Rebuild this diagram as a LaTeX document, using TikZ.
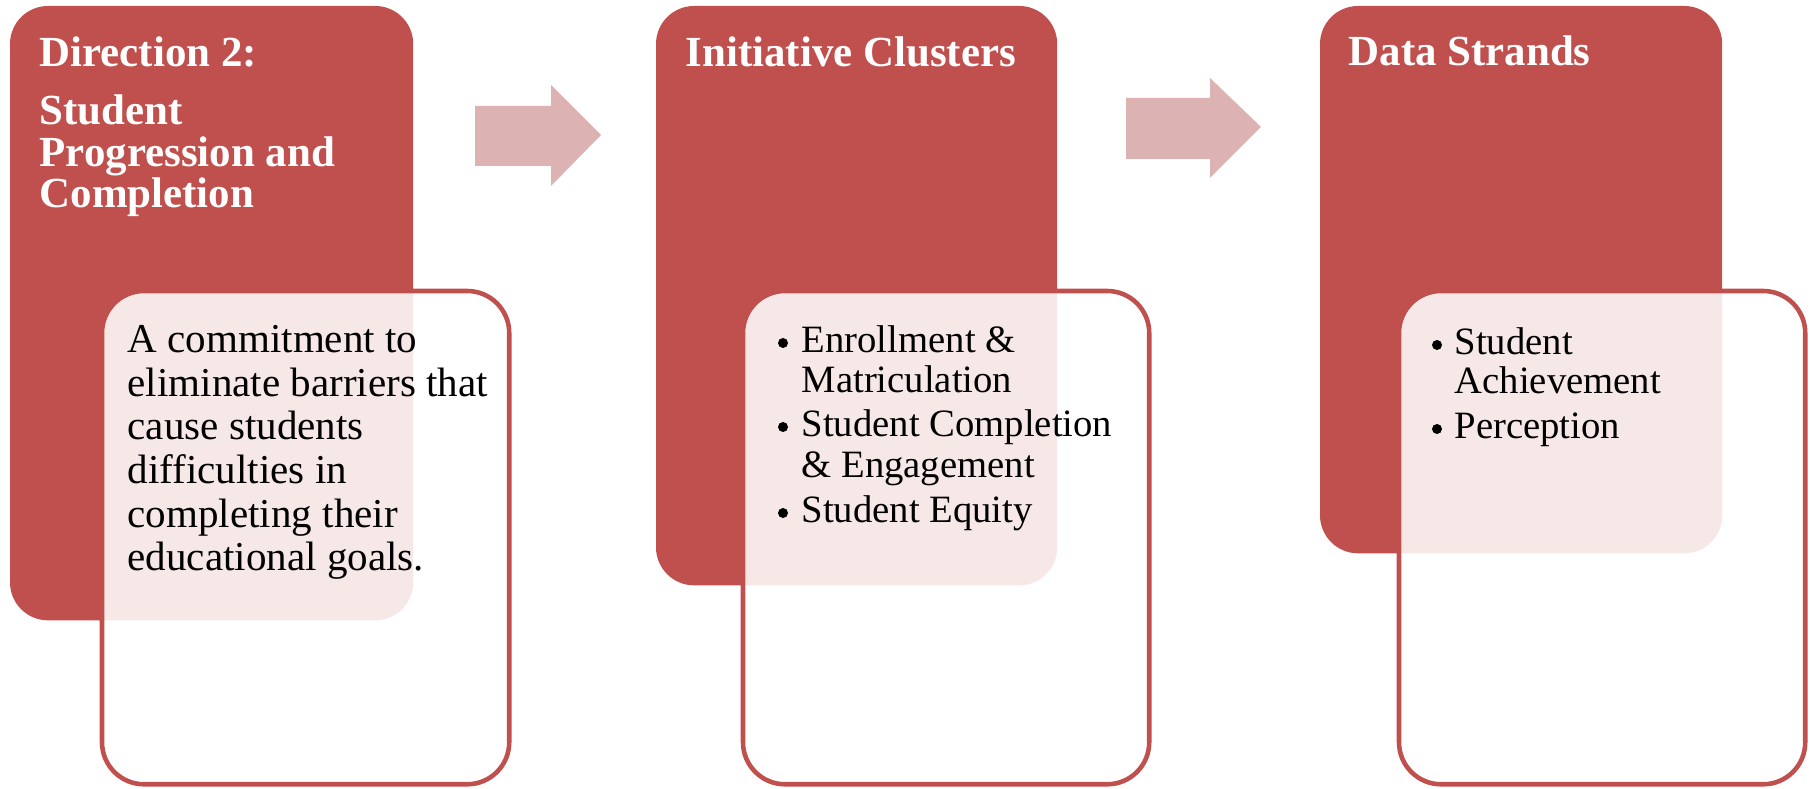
\documentclass[tikz,border=0pt]{standalone}
\usepackage{fontspec}
\setmainfont{Liberation Serif}
\definecolor{darkred}{RGB}{192,80,77}
\definecolor{arrowpink}{RGB}{221,178,178}
\tikzset{
  darkbox/.style={fill=darkred, draw=none, rounded corners=0.38cm, inner sep=0pt, outer sep=0pt, anchor=north west},
  lightbox/.style={fill=white, fill opacity=0.87, draw=darkred, draw opacity=1, line width=1.3pt, rounded corners=0.42cm, inner sep=0pt, outer sep=0pt, anchor=north west},
  blockarrow/.style={fill=arrowpink, draw=none},
  headtxt/.style={text=white, font=\fontsize{12.2}{14}\selectfont\bfseries, inner sep=0pt, anchor=base west},
  bodytxt/.style={text=black, font=\fontsize{11.67}{13}\selectfont, inner sep=0pt, anchor=base west},
  listtxt/.style={text=black, font=\fontsize{11}{13}\selectfont, inner sep=0pt, anchor=base west},
  bulletdot/.style={circle, fill=black, draw=none, inner sep=0pt, minimum size=0.1cm},
}
\begin{document}
\begin{tikzpicture}[x=0.01cm, y=-0.01cm]
\useasboundingbox (0,0) rectangle (1811,789);
\fill[white] (0,0) rectangle (1811,789);

% dark header boxes
\node[darkbox, minimum width=4.03cm, minimum height=6.14cm] (d1) at (10,6) {};
\node[darkbox, minimum width=4.01cm, minimum height=5.79cm] (d2) at (656,6) {};
\node[darkbox, minimum width=4.02cm, minimum height=5.47cm] (d3) at (1320,6) {};

% light content boxes
\node[lightbox, minimum width=4.07cm, minimum height=4.93cm] (l1) at (102,291) {};
\node[lightbox, minimum width=4.06cm, minimum height=4.93cm] (l2) at (743,291) {};
\node[lightbox, minimum width=4.06cm, minimum height=4.93cm] (l3) at (1399,291) {};

% block arrows
\fill[blockarrow] (475,106) -- (551,106) -- (551,85) -- (601,135) -- (551,186) -- (551,166) -- (475,166) -- cycle;
\fill[blockarrow] (1126,98) -- (1210,98) -- (1210,78) -- (1261,127) -- (1210,178) -- (1210,159) -- (1126,159) -- cycle;

% headings
\node[headtxt] (h1a) at (39,67) {Direction 2:};
\node[headtxt] (h1b) at (39,125) {Student};
\node[headtxt] (h1c) at (39,167) {Progression and};
\node[headtxt] (h1d) at (39,208) {Completion};
\node[headtxt] (h2) at (685,67) {Initiative Clusters};
\node[headtxt] (h3) at (1348,66) {Data Strands};

% box 1 text
\foreach \yy/\tt [count=\i] in {353/A commitment to, 397/eliminate barriers that, 440/cause students, 484/difficulties in, 528/completing their, 571/educational goals.}
  \node[bodytxt] (b\i) at (127,\yy) {\tt};

% box 2 list
\foreach \yy [count=\i] in {343,427,513}
  \node[bulletdot] (cb\i) at (783,\yy) {};
\foreach \yy/\tt [count=\i] in {353/Enrollment \&, 393/Matriculation, 437/Student Completion, 478/\& Engagement, 523/Student Equity}
  \node[listtxt] (c\i) at (801,\yy) {\tt};

% box 3 list
\foreach \yy [count=\i] in {345,429}
  \node[bulletdot] (db\i) at (1437,\yy) {};
\foreach \yy/\tt [count=\i] in {355/Student, 394/Achievement, 439/Perception}
  \node[listtxt] (e\i) at (1454,\yy) {\tt};
\end{tikzpicture}
\end{document}
